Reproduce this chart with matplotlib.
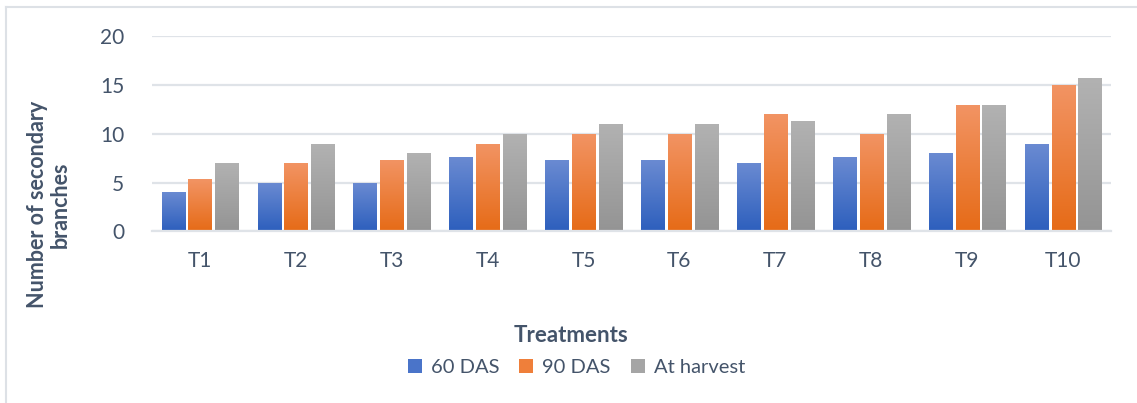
import numpy as np
import matplotlib
matplotlib.use("Agg")
import matplotlib.pyplot as plt
from matplotlib.colors import LinearSegmentedColormap
from matplotlib.patches import Patch
from matplotlib.lines import Line2D

# Data
treatments = ["T1", "T2", "T3", "T4", "T5", "T6", "T7", "T8", "T9", "T10"]
das_60 = [4.0, 5.0, 5.0, 7.67, 7.33, 7.33, 7.0, 7.67, 8.0, 9.0]
das_90 = [5.33, 7.0, 7.33, 9.0, 10.0, 10.0, 12.0, 10.0, 13.0, 15.0]
at_harvest = [7.0, 9.0, 8.0, 10.0, 11.0, 11.0, 11.33, 12.0, 13.0, 15.67]
series_names = ["60 DAS", "90 DAS", "At harvest"]

# (top colour, bottom colour) for the gradient fills
grads = [("#6b8bd2", "#2d5fbd"), ("#f29464", "#e66b17"), ("#b2b2b2", "#949494")]

text_col = "#44546a"
grid_col = "#dfe3e8"
plt.rcParams["font.family"] = ["Lato", "DejaVu Sans"]

fig = plt.figure(figsize=(11.37, 4.03), dpi=100)
ax = fig.add_axes([0.1337, 0.426, 0.9771 - 0.1337, 0.484])

x = np.arange(len(treatments))
width = 0.24
offsets = [-0.28, 0.0, 0.28]
grad = np.linspace(0, 1, 256).reshape(-1, 1)

for vals, off, (top, bot), name in zip([das_60, das_90, at_harvest], offsets, grads, series_names):
    bars = ax.bar(x + off, vals, width, color="none", edgecolor="none", label=name)
    cmap = LinearSegmentedColormap.from_list(name, [bot, top])
    for b in bars:
        x0, y0 = b.get_x(), b.get_y()
        im = ax.imshow(grad, cmap=cmap, origin="lower", aspect="auto",
                       extent=[x0, x0 + b.get_width(), y0, y0 + b.get_height()], zorder=2)
        im.set_clip_path(b)

ax.set_xlim(-0.5, len(treatments) - 0.5)
ax.set_ylim(0, 20)
ax.set_yticks([0, 5, 10, 15, 20])
ax.set_xticks(x)
ax.set_xticklabels(treatments)
ax.tick_params(axis="both", length=0, labelsize=15, colors=text_col)
ax.tick_params(axis="y", pad=20)
ax.tick_params(axis="x", pad=14)
ax.grid(axis="y", color=grid_col, linewidth=1.6, zorder=0)
ax.set_axisbelow(True)
for s in ["top", "right", "left"]:
    ax.spines[s].set_visible(False)
ax.spines["bottom"].set_color(grid_col)
ax.spines["bottom"].set_linewidth(1.6)

fig.text(0.043, 0.492, "Number of secondary\nbranches", rotation=90, ha="center", va="center",
         fontsize=15.5, fontweight="bold", color=text_col, linespacing=1.15)
fig.text(0.502, 0.168, "Treatments", ha="center", va="center",
         fontsize=16, fontweight="bold", color=text_col)

handles = [Patch(facecolor=c, label=n) for c, n in zip(["#4a74c9", "#ef7f3a", "#a5a5a5"], series_names)]
fig.legend(handles=handles, loc="center", bbox_to_anchor=(0.507, 0.087), ncol=3, frameon=False,
           fontsize=14.5, labelcolor=text_col, handlelength=0.7, handleheight=0.7,
           handletextpad=0.45, columnspacing=1.0)

# light chart-area border (top and left)
fig.add_artist(Line2D([6 / 1137, 1], [1 - 7 / 403, 1 - 7 / 403], color="#dde1e6", lw=1.5))
fig.add_artist(Line2D([6 / 1137, 6 / 1137], [0, 1 - 7 / 403], color="#dde1e6", lw=1.5))

fig.savefig("out.png", dpi=100)
